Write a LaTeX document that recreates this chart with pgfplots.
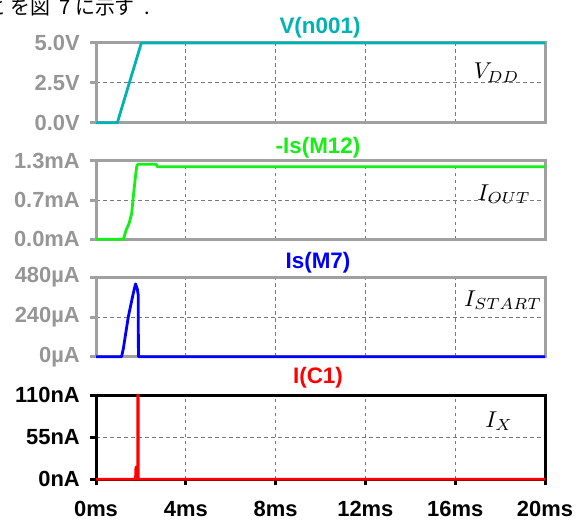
\documentclass[border=0pt]{standalone}
\usepackage{fontspec}
\setmainfont{Liberation Sans}
\newfontfamily\cjk{Noto Sans CJK JP}
\usepackage{pgfplots}
\pgfplotsset{compat=1.18}
\definecolor{axgray}{RGB}{160,160,160}
\definecolor{lblgray}{RGB}{150,150,150}
\definecolor{gridgray}{RGB}{120,120,120}
\definecolor{tealc}{RGB}{0,178,178}
\definecolor{grnc}{RGB}{20,240,20}
\definecolor{bluc}{RGB}{0,0,255}
\definecolor{redc}{RGB}{255,0,0}
\pgfplotsset{
  ltpanel/.style={
    scale only axis, width=449bp,
    xmin=0, xmax=20, xtick={0,4,8,12,16,20},
    clip=false, set layers,
    axis line style={line width=3bp, color=axgray},
    ytick pos=left, tick align=outside, major tick length=6bp,
    ytick style={line width=3bp, color=axgray},
    xtick style={draw=none}, xticklabels={},
    grid=major,
    major grid style={gridgray, line width=0.9bp, dash pattern=on 3.5bp off 3.5bp},
    yticklabel style={font=\fontsize{22}{24}\selectfont\bfseries, text=lblgray, anchor=east, inner sep=0pt, xshift=-10bp},
  },
  trace/.style={line width=2.8bp, line join=round},
}
\begin{document}
\begin{tikzpicture}
\path (0,0) rectangle (587bp,-521bp);
% Japanese fragment
\node[overlay, anchor=base east, inner sep=0pt, font=\cjk\fontsize{20}{22}\selectfont] at (7bp,-14bp) {と};
\node[overlay, anchor=base west, inner sep=0pt, font=\cjk\fontsize{20}{22}\selectfont] at (10bp,-14bp) {を図\hspace{9bp}7\hspace{5bp}に示す\hspace{10bp}.};

% Panel 1
\begin{axis}[ltpanel, height=79.7bp, at={(96bp,-122.7bp)}, anchor=south west,
  ymin=0, ymax=5, ytick={0,2.5,5}, yticklabels={0.0V,2.5V,5.0V}]
\addplot[trace, color=tealc] coordinates {(0,0) (0.95,0) (2.02,5) (20,5)};
\end{axis}

% Panel 2
\begin{axis}[ltpanel, height=78.6bp, at={(96bp,-239.3bp)}, anchor=south west,
  ymin=0, ymax=1.3, ytick={0,0.65,1.3}, yticklabels={0.0mA,0.7mA,1.3mA}]
\addplot[trace, color=grnc] coordinates {(0,0) (1.22,0) (1.34,0.15) (1.48,0.27) (1.59,0.43) (1.66,0.70) (1.74,0.98) (1.81,1.20) (1.86,1.24) (2.70,1.24) (2.72,1.20) (20,1.20)};
\end{axis}

% Panel 3
\begin{axis}[ltpanel, height=79.4bp, at={(96bp,-356.7bp)}, anchor=south west,
  ymin=0, ymax=480, ytick={0,240,480}, yticklabels={0µA,240µA,480µA}]
\addplot[trace, color=bluc] coordinates {(0,0) (1.14,0) (1.22,51) (1.44,242) (1.66,383) (1.76,440) (1.84,410) (1.88,373) (1.89,0) (20,0)};
\end{axis}

% Panel 4
\begin{axis}[ltpanel, height=84.3bp, at={(96bp,-479.3bp)}, anchor=south west,
  ymin=0, ymax=110, ytick={0,55,110}, yticklabels={0nA,55nA,110nA},
  axis line style={line width=3bp, color=black},
  ytick style={line width=3bp, color=black},
  yticklabel style={text=black},
  xtick pos=bottom,
  xtick style={draw=black, line width=3bp},
  xticklabels={0ms,4ms,8ms,12ms,16ms,20ms},
  xticklabel style={font=\fontsize{22}{24}\selectfont\bfseries, text=black, anchor=base, inner sep=0pt, yshift=-31bp}]
\addplot[trace, color=redc] coordinates {(0,0) (1.76,0) (1.78,16) (1.80,16) (1.82,0) (1.855,0) (1.86,110) (1.875,110) (1.88,0) (20,0)};
\end{axis}

% Titles
\node[anchor=base, inner sep=0pt, font=\fontsize{22.5}{25}\selectfont\bfseries, text=tealc] at (320bp,-33bp) {V(n001)};
\node[anchor=base, inner sep=0pt, font=\fontsize{22.5}{25}\selectfont\bfseries, text=grnc] at (318bp,-153.3bp) {-Is(M12)};
\node[anchor=base, inner sep=0pt, font=\fontsize{22.5}{25}\selectfont\bfseries, text=bluc] at (318bp,-268.3bp) {Is(M7)};
\node[anchor=base, inner sep=0pt, font=\fontsize{22.5}{25}\selectfont\bfseries, text=redc] at (318bp,-383.3bp) {I(C1)};

% Math labels
\node[scale=2.3, inner sep=0pt] at (496.5bp,-72.5bp) {$V_{DD}$};
\node[scale=2.3, inner sep=0pt] at (504bp,-194bp) {$I_{OUT}$};
\node[scale=2.3, inner sep=0pt] at (503bp,-300bp) {$I_{START}$};
\node[scale=2.3, inner sep=0pt] at (499bp,-421bp) {$I_X$};
\end{tikzpicture}
\end{document}
